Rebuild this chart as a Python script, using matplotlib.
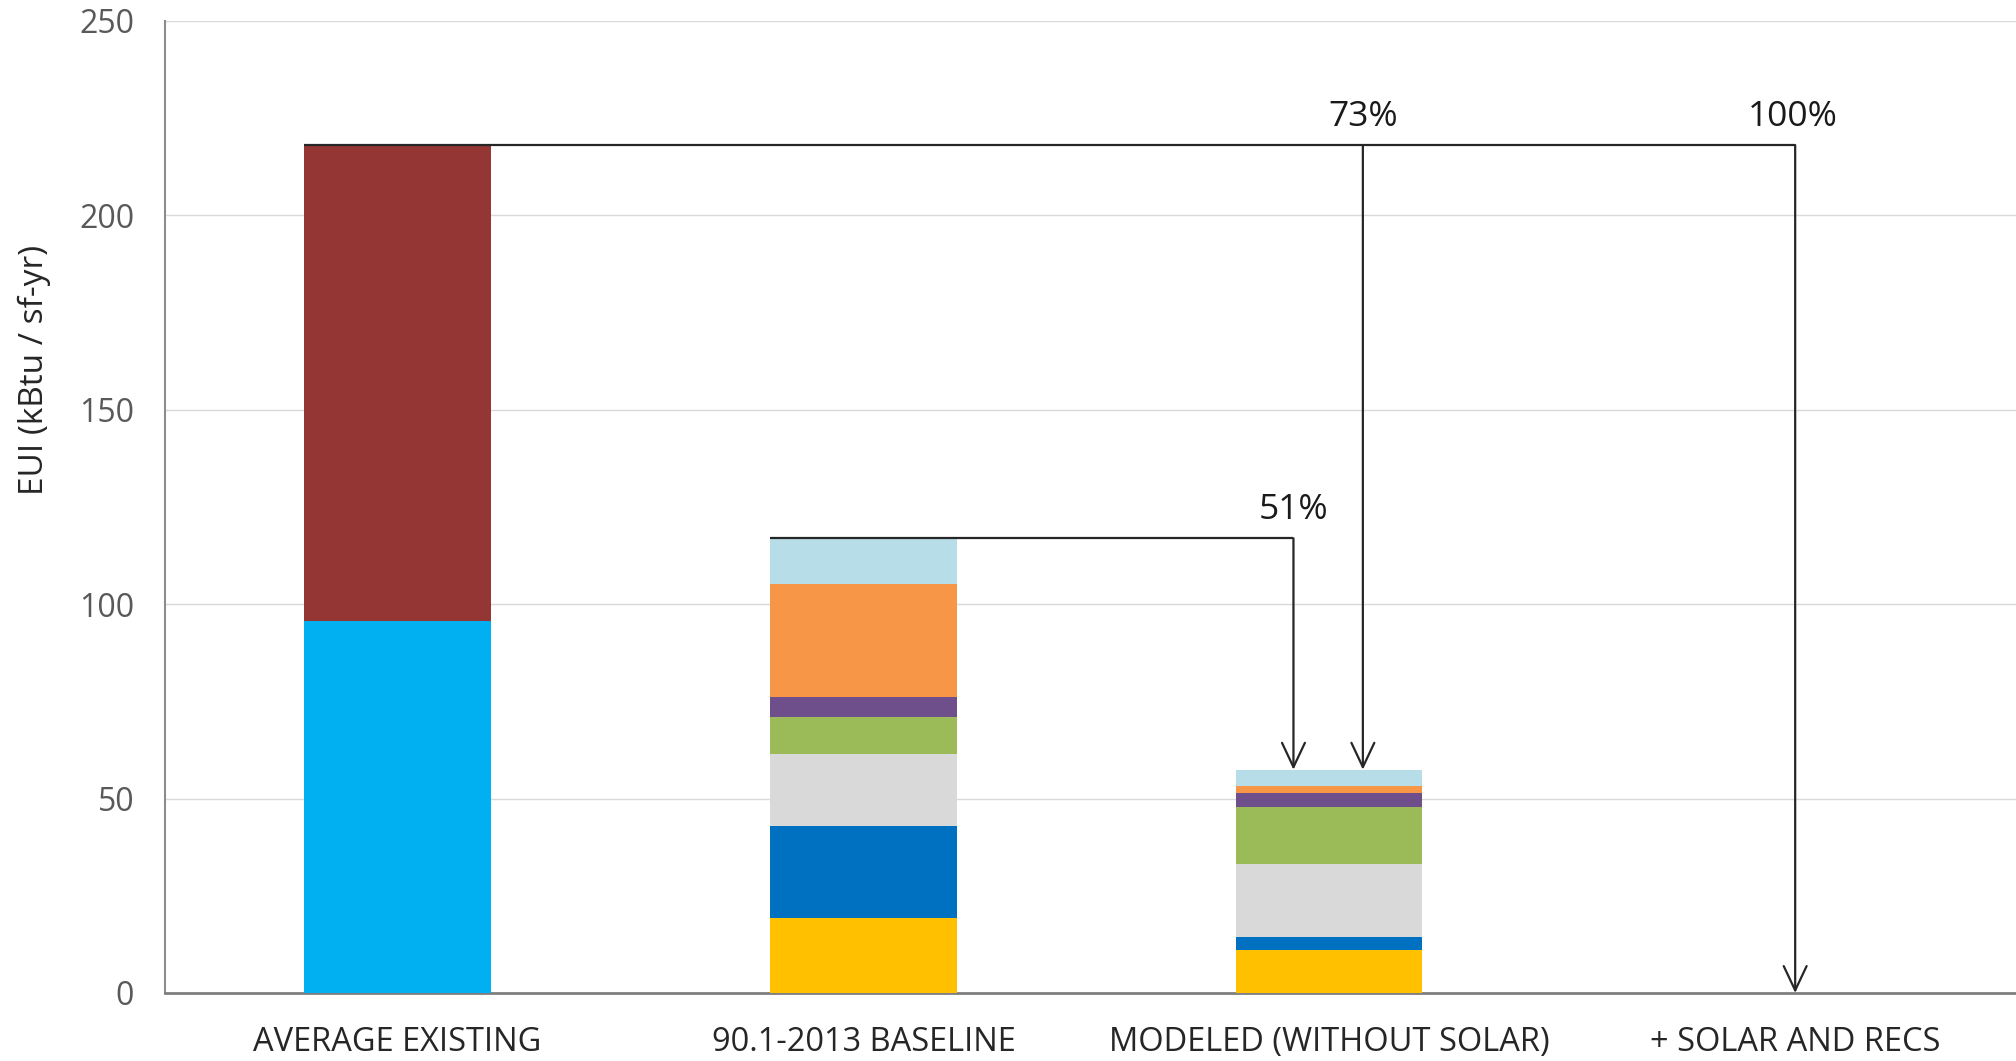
import matplotlib
matplotlib.use("Agg")
import matplotlib.pyplot as plt
import numpy as np

plt.rcParams['font.family'] = ['Open Sans', 'DejaVu Sans']

# Categories along the x axis
categories = ["AVERAGE EXISTING", "90.1-2013 BASELINE", "MODELED (WITHOUT SOLAR)", "+ SOLAR AND RECS"]

# Average existing building: two stacked components (kBtu/sf-yr)
existing_lower = 95.7
existing_upper = 122.3

# End-use breakdown for baseline and modeled buildings, bottom to top (kBtu/sf-yr)
segment_colors = ["#FFC000", "#0070C0", "#D9D9D9", "#9BBB59", "#6E4F8C", "#F79646", "#B7DEE8"]
baseline_segments = [19.4, 23.5, 18.5, 9.6, 5.0, 29.2, 11.7]
modeled_segments = [11.1, 3.4, 18.7, 14.5, 3.8, 1.6, 4.3]

# Reduction labels
reduction_labels = ["51%", "73%", "100%"]

fig = plt.figure(figsize=(20.16, 10.61), dpi=100)
ax = fig.add_axes([0.0817, 0.0641, 0.9243, 0.9165])

x = np.arange(len(categories))
width = 0.40

# Existing building bar
ax.bar(x[0], existing_lower, width, color="#00B0F0", zorder=3)
ax.bar(x[0], existing_upper, width, bottom=existing_lower, color="#943634", zorder=3)

# Baseline and modeled stacked bars
for xi, segs in ((x[1], baseline_segments), (x[2], modeled_segments)):
    bottom = 0.0
    for val, col in zip(segs, segment_colors):
        ax.bar(xi, val, width, bottom=bottom, color=col, zorder=3)
        bottom += val

existing_total = existing_lower + existing_upper
baseline_total = sum(baseline_segments)
modeled_total = sum(modeled_segments)

line_kw = dict(color="#262626", lw=1.6, zorder=4, solid_capstyle="butt")
arrow_kw = dict(arrowstyle="->,head_length=0.7,head_width=0.33", color="#262626",
                lw=1.6, shrinkA=0, shrinkB=0, mutation_scale=25)
label_kw = dict(textcoords="offset points", ha="center", va="bottom",
                fontsize=25.5, color="#1a1a1a")

# Baseline -> modeled reduction bracket
x51 = x[2] - 0.077
ax.plot([x[1] - width / 2, x51], [baseline_total, baseline_total], **line_kw)
ax.annotate("", xy=(x51, modeled_total), xytext=(x51, baseline_total),
            arrowprops=arrow_kw, zorder=4)
ax.annotate(reduction_labels[0], xy=(x51, baseline_total), xytext=(0, 8), **label_kw)

# Existing -> modeled and existing -> net zero brackets
x73 = x[2] + 0.072
x100 = x[3]
ax.plot([x[0] - width / 2, x100], [existing_total, existing_total], **line_kw)
ax.annotate("", xy=(x73, modeled_total), xytext=(x73, existing_total),
            arrowprops=arrow_kw, zorder=4)
ax.annotate("", xy=(x100, 0), xytext=(x100, existing_total),
            arrowprops=arrow_kw, zorder=4)
ax.annotate(reduction_labels[1], xy=(x73, existing_total), xytext=(0, 8), **label_kw)
ax.annotate(reduction_labels[2], xy=(x100, existing_total), xytext=(-2, 8), **label_kw)

ax.set_xlim(-0.5, 3.5)
ax.set_ylim(0, 250)
ax.set_yticks([0, 50, 100, 150, 200, 250])
ax.yaxis.grid(True, color="#d9d9d9", lw=1.0, zorder=0)
ax.set_axisbelow(True)

ax.set_xticks(x)
ax.set_xticklabels(categories)
ax.tick_params(axis="x", length=0, pad=24, labelsize=23.5, labelcolor="#262626")
ax.tick_params(axis="y", length=0, pad=22, labelsize=23, labelcolor="#595959")

for s in ("top", "right"):
    ax.spines[s].set_visible(False)
ax.spines["left"].set_color("#8c8c8c")
ax.spines["left"].set_linewidth(1.5)
ax.spines["bottom"].set_color("#7f7f7f")
ax.spines["bottom"].set_linewidth(2.0)

ax.set_ylabel("EUI (kBtu / sf-yr)", fontsize=24, color="#262626")
ax.yaxis.set_label_coords(-0.061, 0.641)

fig.savefig("out.png", dpi=100, facecolor="white")
